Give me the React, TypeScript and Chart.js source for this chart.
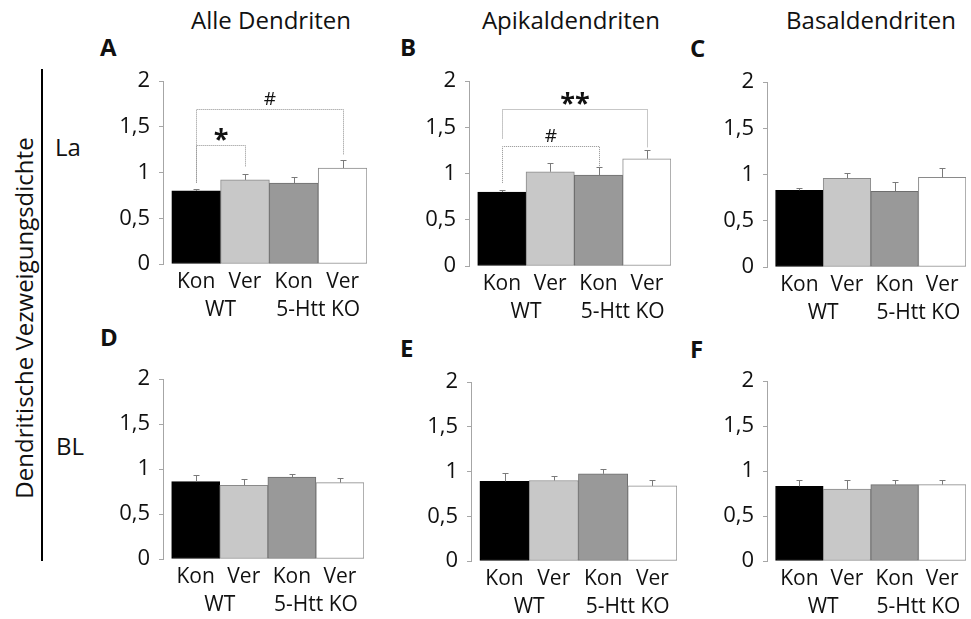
import React, { useEffect, useRef } from "react";
import { Chart, registerables } from "chart.js";

Chart.register(...registerables);

// ---------- data ----------
const categories = ["Kon", "Ver", "Kon", "Ver"];
const groups = ["WT", "5-Htt KO"];
const groupCenters = [0.5, 2.5];
const yTicks = [0, 0.5, 1, 1.5, 2];
const columnTitles = ["Alle Dendriten", "Apikaldendriten", "Basaldendriten"];
const rowLabels = ["La", "BL"];
const panelLetters = ["A", "B", "C", "D", "E", "F"];
const yAxisTitle = "Dendritische Vezweigungsdichte";

const barColors = ["#000000", "#c8c8c8", "#999999", "#ffffff"];
const barBorders = ["#000000", "#8a8a8a", "#6e6e6e", "#8a8a8a"];

const meansA = [0.8, 0.92, 0.885, 1.05];
const semA = [0.02, 0.06, 0.065, 0.09];
const meansB = [0.8, 1.02, 0.985, 1.16];
const semB = [0.02, 0.1, 0.085, 0.1];
const meansC = [0.83, 0.96, 0.82, 0.97];
const semC = [0.03, 0.06, 0.1, 0.1];
const meansD = [0.86, 0.82, 0.91, 0.85];
const semD = [0.07, 0.07, 0.04, 0.05];
const meansE = [0.89, 0.9, 0.975, 0.84];
const semE = [0.09, 0.05, 0.05, 0.07];
const meansF = [0.83, 0.8, 0.85, 0.85];
const semF = [0.07, 0.1, 0.05, 0.05];

type Bracket = { from: number; to: number; y: number; leftEnd: number; rightEnd: number; label: string };

const bracketsA: Bracket[] = [
  { from: 0, to: 1, y: 1.3, leftEnd: 0.89, rightEnd: 1.06, label: "*" },
  { from: 0, to: 3, y: 1.7, leftEnd: 0.89, rightEnd: 1.2, label: "#" },
];
const bracketsB: Bracket[] = [
  { from: 0, to: 2, y: 1.3, leftEnd: 0.9, rightEnd: 1.08, label: "#" },
  { from: 0, to: 3, y: 1.7, leftEnd: 1.38, rightEnd: 1.28, label: "**" },
];

const panels = [
  { means: meansA, sem: semA, brackets: bracketsA },
  { means: meansB, sem: semB, brackets: bracketsB },
  { means: meansC, sem: semC, brackets: [] as Bracket[] },
  { means: meansD, sem: semD, brackets: [] as Bracket[] },
  { means: meansE, sem: semE, brackets: [] as Bracket[] },
  { means: meansF, sem: semF, brackets: [] as Bracket[] },
];

// ---------- layout (pixel geometry) ----------
const FONT = "'Open Sans', sans-serif";
const YW = 70; // y-axis box width
const PT = 16; // top padding
const PR = 4; // right padding
const XH1 = 25; // first x label row
const XH2 = 36; // group label row
const geom = [
  { axisX: 163, yTop: 75, yBottom: 264, right: 367 },
  { axisX: 469, yTop: 75, yBottom: 266, right: 671 },
  { axisX: 767, yTop: 76, yBottom: 267, right: 966 },
  { axisX: 163, yTop: 373, yBottom: 559, right: 364 },
  { axisX: 471, yTop: 376, yBottom: 561, right: 677 },
  { axisX: 767, yTop: 375, yBottom: 561, right: 966 },
];
const X_MIN = -0.68;
const X_MAX = 3.5;
const X_TICK_SIZE = 21;
const Y_TICK_SIZE = 22;

function Panel({ index }: { index: number }) {
  const ref = useRef<HTMLCanvasElement | null>(null);
  const g = geom[index];
  const p = panels[index];
  const width = YW + (g.right - g.axisX) + PR;
  const height = PT + (g.yBottom - g.yTop) + XH1 + XH2;

  useEffect(() => {
    if (!ref.current) return;
    const errorBars = {
      id: "errorBars" + index,
      afterDatasetsDraw(chart: any) {
        const ctx = chart.ctx;
        const xs = chart.scales.x;
        const ys = chart.scales.y;
        ctx.save();
        ctx.strokeStyle = "#7a7a7a";
        ctx.lineWidth = 1;
        p.means.forEach((m, i) => {
          const x = Math.round(xs.getPixelForValue(i)) + 0.5;
          const y0 = ys.getPixelForValue(m);
          const y1 = Math.round(ys.getPixelForValue(m + p.sem[i])) + 0.5;
          ctx.beginPath();
          ctx.moveTo(x, y0);
          ctx.lineTo(x, y1);
          ctx.moveTo(x - 3, y1);
          ctx.lineTo(x + 3, y1);
          ctx.stroke();
        });
        ctx.restore();
      },
    };
    const brackets = {
      id: "brackets" + index,
      afterDatasetsDraw(chart: any) {
        const ctx = chart.ctx;
        const xs = chart.scales.x;
        const ys = chart.scales.y;
        ctx.save();
        p.brackets.forEach((b) => {
          const x1 = Math.round(xs.getPixelForValue(b.from)) + 0.5;
          const x2 = Math.round(xs.getPixelForValue(b.to)) + 0.5;
          const yb = Math.round(ys.getPixelForValue(b.y)) + 0.5;
          const yl = ys.getPixelForValue(b.leftEnd);
          const yr = ys.getPixelForValue(b.rightEnd);
          ctx.strokeStyle = "#8f8f8f";
          ctx.lineWidth = 1;
          ctx.setLineDash([1, 1]);
          ctx.beginPath();
          ctx.moveTo(x1, yl);
          ctx.lineTo(x1, yb);
          ctx.lineTo(x2, yb);
          ctx.lineTo(x2, yr);
          ctx.stroke();
          ctx.setLineDash([]);
          ctx.fillStyle = "#111";
          ctx.textAlign = "center";
          ctx.textBaseline = "alphabetic";
          const isStar = b.label.indexOf("*") >= 0;
          if (isStar) {
            ctx.font = `bold 27px ${FONT}`;
            ctx.fillText(b.label, (x1 + x2) / 2, yb + 2);
          } else {
            ctx.font = `19px ${FONT}`;
            ctx.fillText(b.label, (x1 + x2) / 2, yb - 5);
          }
        });
        ctx.restore();
      },
    };

    const chart = new Chart(ref.current, {
      type: "bar",
      data: {
        datasets: [
          {
            data: p.means.map((v, i) => ({ x: i, y: v })),
            backgroundColor: barColors,
            borderColor: barBorders,
            borderWidth: 1,
            borderSkipped: false,
            categoryPercentage: 1,
            barPercentage: 1,
            xAxisID: "x",
            yAxisID: "y",
          } as any,
        ],
      },
      options: {
        animation: false,
        responsive: false,
        devicePixelRatio: 1,
        layout: { padding: { top: PT, right: PR, left: 0, bottom: 0 } },
        plugins: { legend: { display: false }, tooltip: { enabled: false } },
        scales: {
          x: {
            type: "linear",
            position: "bottom",
            offset: false,
            min: X_MIN,
            max: X_MAX,
            grid: { display: false, offset: false },
            border: { display: false },
            afterBuildTicks: (s: any) => {
              s.ticks = categories.map((_, i) => ({ value: i }));
            },
            afterFit: (s: any) => {
              s.height = XH1;
            },
            ticks: {
              autoSkip: false,
              maxRotation: 0,
              padding: -3,
              color: "#111",
              font: { family: FONT, size: X_TICK_SIZE },
              callback: (v: any) => categories[Math.round(Number(v))],
            },
          },
          x2: {
            type: "linear",
            position: "bottom",
            offset: false,
            min: X_MIN,
            max: X_MAX,
            grid: { display: false, offset: false },
            border: { display: false },
            afterBuildTicks: (s: any) => {
              s.ticks = groupCenters.map((v) => ({ value: v }));
            },
            afterFit: (s: any) => {
              s.height = XH2;
            },
            ticks: {
              autoSkip: false,
              maxRotation: 0,
              padding: 0,
              color: "#111",
              font: { family: FONT, size: X_TICK_SIZE },
              callback: (_v: any, i: number) => groups[i],
            },
          },
          y: {
            min: 0,
            max: 2,
            afterBuildTicks: (s: any) => {
              s.ticks = yTicks.map((v) => ({ value: v }));
            },
            afterFit: (s: any) => {
              s.width = YW;
            },
            grid: { drawOnChartArea: false, tickLength: 4, color: "#a6a6a6" },
            border: { color: "#a6a6a6", width: 1 },
            ticks: {
              padding: 9,
              color: "#111",
              font: { family: FONT, size: Y_TICK_SIZE },
              callback: (v: any) => String(v).replace(".", ","),
            },
          },
        },
      } as any,
      plugins: [errorBars, brackets],
    });
    return () => chart.destroy();
  }, [index]);

  return (
    <canvas
      ref={ref}
      width={width}
      height={height}
      style={{
        position: "absolute",
        left: g.axisX - YW,
        top: g.yTop - PT,
        width,
        height,
      }}
    />
  );
}

const titleX = [271, 571, 871];
const letterPos = [
  [100, 39],
  [400, 39],
  [690, 40],
  [100, 329],
  [400, 340],
  [690, 341],
];

export default function App() {
  const txt: React.CSSProperties = {
    position: "absolute",
    fontFamily: FONT,
    lineHeight: 1,
    color: "#111",
    whiteSpace: "nowrap",
  };
  return (
    <div style={{ position: "absolute", left: 0, top: 0, width: 971, height: 619, background: "#fff", overflow: "hidden" }}>
      {columnTitles.map((t, i) => (
        <div key={t} style={{ ...txt, fontSize: 24, left: titleX[i] - 150, width: 300, textAlign: "center", top: 8 }}>
          {t}
        </div>
      ))}
      {panelLetters.map((l, i) => (
        <div key={l} style={{ ...txt, fontSize: 24, fontWeight: 700, left: letterPos[i][0], top: letterPos[i][1] - 4 }}>
          {l}
        </div>
      ))}
      <div style={{ ...txt, fontSize: 24, left: 55, top: 135 }}>{rowLabels[0]}</div>
      <div style={{ ...txt, fontSize: 24, left: 56, top: 434 }}>{rowLabels[1]}</div>
      <div style={{ position: "absolute", left: 41, top: 69, width: 2, height: 492, background: "#000" }} />
      <div
        style={{
          ...txt,
          fontSize: 24,
          left: 24 - 250,
          top: 318 - 12,
          width: 500,
          height: 24,
          textAlign: "center",
          transform: "rotate(-90deg)",
        }}
      >
        {yAxisTitle}
      </div>
      {geom.map((_, i) => (
        <Panel key={i} index={i} />
      ))}
    </div>
  );
}
